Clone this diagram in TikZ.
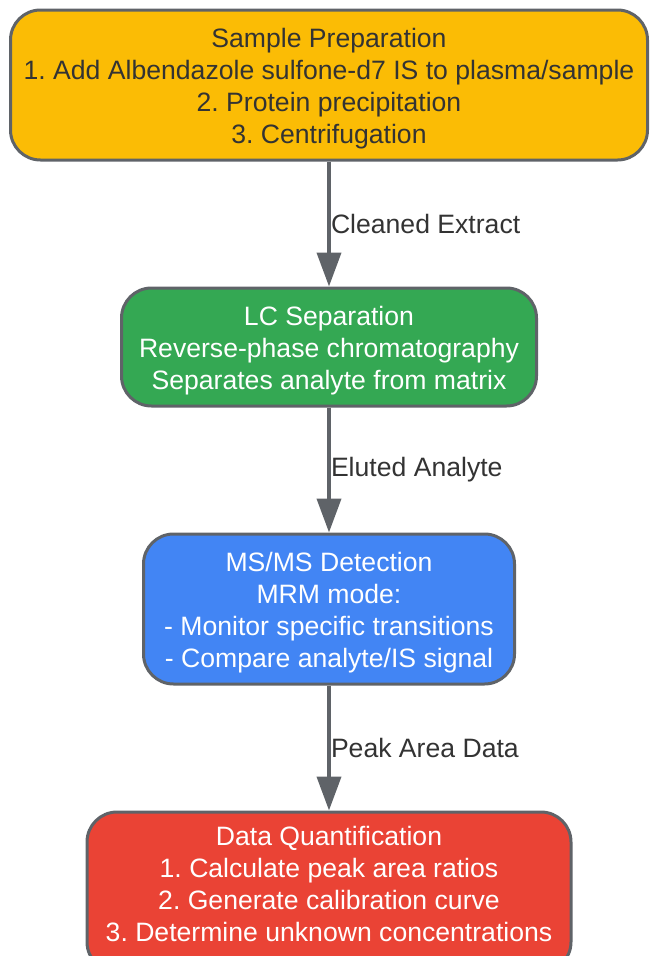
\documentclass[tikz,border=0pt]{standalone}
\usepackage{fontspec}
\setmainfont{Liberation Sans}
\usetikzlibrary{arrows.meta,positioning}
\definecolor{edge}{HTML}{5F6368}
\definecolor{prepfill}{HTML}{FBBC05}
\definecolor{lcfill}{HTML}{34A853}
\definecolor{msfill}{HTML}{4285F4}
\definecolor{quantfill}{HTML}{EA4335}
\definecolor{labeltext}{HTML}{333333}
\frenchspacing
\newcommand{\topgap}{\rule{0pt}{26pt}}
\newcommand{\bottomgap}{\rule[-24pt]{0pt}{24pt}}
\begin{document}
\begin{tikzpicture}[
          node distance=125pt,
          every node/.style={font=\fontsize{26.6}{32}\selectfont},
          stagebox/.style={rounded corners=30pt,draw=edge,line width=3pt,
              align=center,inner sep=0pt},
          flowlabel/.style={anchor=west,inner sep=0pt,text=labeltext}]
        \useasboundingbox (0pt,0pt) rectangle (649pt,-956pt);
        \node[stagebox,fill=prepfill,text=labeltext,minimum width=637pt,minimum height=150pt]
            (prep) at (329pt,-85pt) {\topgap Sample Preparation\\1. Add Albendazole sulfone-d7 IS to plasma/sample\\2. Protein precipitation\\3. Centrifugation};
        \node[stagebox,fill=lcfill,text=white,minimum width=415pt,minimum height=118pt,below=of prep]
            (lc) {\topgap LC Separation\\Reverse-phase chromatography\\Separates analyte from matrix};
        \node[stagebox,fill=msfill,text=white,minimum width=371pt,minimum height=150pt,below=of lc]
            (ms) {\topgap MS/MS Detection\\MRM mode:\\- Monitor specific transitions\\- Compare analyte/IS signal};
        \node[stagebox,fill=quantfill,text=white,minimum width=484pt,minimum height=160pt,below=of ms]
            (quant) {\topgap Data Quantification\\1. Calculate peak area ratios\\2. Generate calibration curve\\3. Determine unknown concentrations\bottomgap};
        \foreach \x/\y/\t in {prep/lc/Cleaned Extract,lc/ms/Eluted Analyte,ms/quant/Peak Area Data}
        \draw[-{Triangle[length=34pt,width=24pt]},line width=4pt,edge] (\x)--(\y)
            node[midway,flowlabel] {\t};
      \end{tikzpicture}
\end{document}
